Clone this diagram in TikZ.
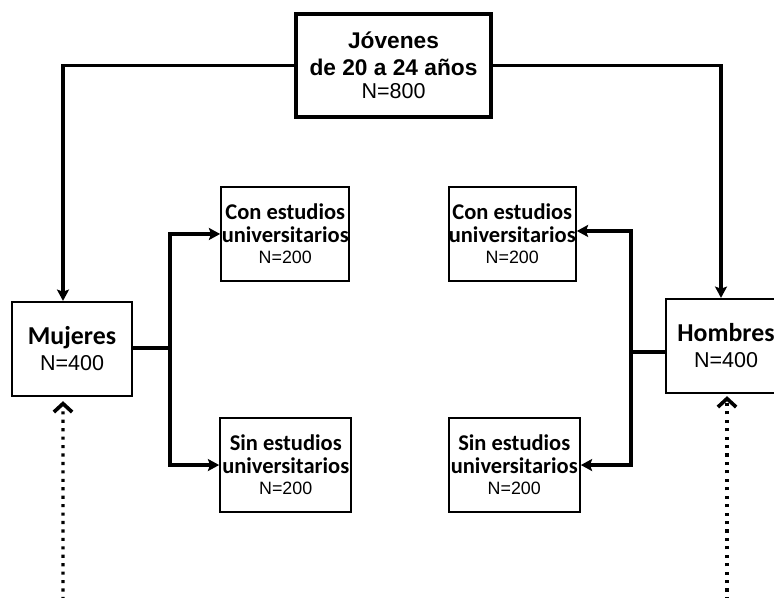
\documentclass[tikz,border=0pt]{standalone}
\usepackage{fontspec}
\setmainfont{Liberation Sans}
\newfontfamily\lblfont{Carlito}
\usetikzlibrary{positioning,arrows.meta}

\tikzset{
  topbox/.style={draw, rectangle, line width=2.8pt, minimum width=4.875cm, minimum height=2.575cm, inner sep=0pt, align=center},
  sidebox/.style={draw, rectangle, line width=1.6pt, minimum width=3cm, minimum height=2.35cm, inner sep=0pt, align=center},
  subbox/.style={draw, rectangle, line width=1.5pt, minimum width=3.2cm, minimum height=2.35cm, inner sep=0pt, align=center},
  conn/.style={line width=2.5pt},
  arr/.style={conn, -{Stealth[length=8pt,width=8.5pt,inset=1.5pt]}},
  dotarr/.style={line width=2.4pt, dash pattern=on 2.2pt off 3.8pt, -{Straight Barb[length=6pt,width=13pt,line width=2.6pt]}}
}

\begin{document}
\begin{tikzpicture}[x=0.025cm,y=-0.025cm]
\useasboundingbox (0,0) rectangle (774,597);

% top box
\node[topbox, font=\fontsize{16.15pt}{19.2pt}\selectfont\bfseries] (jov) at (393.5,65.5) {J\'ovenes\\de 20 a 24 a\~nos\\[-2.8pt]{\mdseries\fontsize{15.3pt}{19.2pt}\selectfont N=800}};

% women / men
\node[sidebox, font=\fontsize{18.35pt}{18.5pt}\selectfont] (muj) at (72,349) {{\lblfont\bfseries Mujeres}\\{\fontsize{15.3pt}{18.5pt}\selectfont N=400}};
\node[sidebox, font=\fontsize{18.35pt}{18.5pt}\selectfont] (hom) at (726,346) {{\lblfont\bfseries Hombres}\\{\fontsize{15.3pt}{18.5pt}\selectfont N=400}};

% sub groups
\node[subbox, font=\fontsize{16pt}{16.4pt}\selectfont, right=2.175cm of muj, yshift=2.875cm] (con1) {{\lblfont\bfseries Con estudios}\\{\lblfont\bfseries universitarios}\\[-1.5pt]{\fontsize{12.7pt}{15pt}\selectfont N=200}};
\node[subbox, font=\fontsize{16pt}{16.4pt}\selectfont, right=2.15cm of muj, yshift=-2.9cm, minimum width=3.275cm] (sin1) {{\lblfont\bfseries Sin estudios}\\{\lblfont\bfseries universitarios}\\[-1.5pt]{\fontsize{12.7pt}{15pt}\selectfont N=200}};
\node[subbox, font=\fontsize{16pt}{16.4pt}\selectfont, left=2.2cm of hom, yshift=2.8cm, minimum width=3.175cm] (con2) {{\lblfont\bfseries Con estudios}\\{\lblfont\bfseries universitarios}\\[-1.5pt]{\fontsize{12.7pt}{15pt}\selectfont N=200}};
\node[subbox, font=\fontsize{16pt}{16.4pt}\selectfont, left=2.1cm of hom, yshift=-2.975cm, minimum width=3.275cm] (sin2) {{\lblfont\bfseries Sin estudios}\\{\lblfont\bfseries universitarios}\\[-1.5pt]{\fontsize{12.7pt}{15pt}\selectfont N=200}};

% top connectors
\draw[arr] (jov.west) -| ([xshift=-0.225cm]muj.north);
\draw[arr] (jov.east) -| ([xshift=-0.125cm]hom.north);

% branches
\coordinate (mj) at ([xshift=0.925cm,yshift=0.025cm]muj.east);
\draw[conn] (muj.east |- mj) -- (mj);
\draw[arr] (mj) |- (con1.west);
\draw[arr] (mj) |- (sin1.west);

\coordinate (hj) at ([xshift=-0.85cm,yshift=-0.15cm]hom.west);
\draw[conn] (hom.west |- hj) -- (hj);
\draw[arr] (hj) |- ([yshift=0.075cm]con2.east);
\draw[arr] (hj) |- (sin2.east);

% dotted inputs
\coordinate (mb) at (63,600);
\coordinate (hb) at (727,600);
\draw[dotarr] (mb) -- ([xshift=-0.225cm,yshift=-0.1cm]muj.south);
\draw[dotarr] (hb) -- ([xshift=0.025cm,yshift=-0.05cm]hom.south);
\end{tikzpicture}
\end{document}
